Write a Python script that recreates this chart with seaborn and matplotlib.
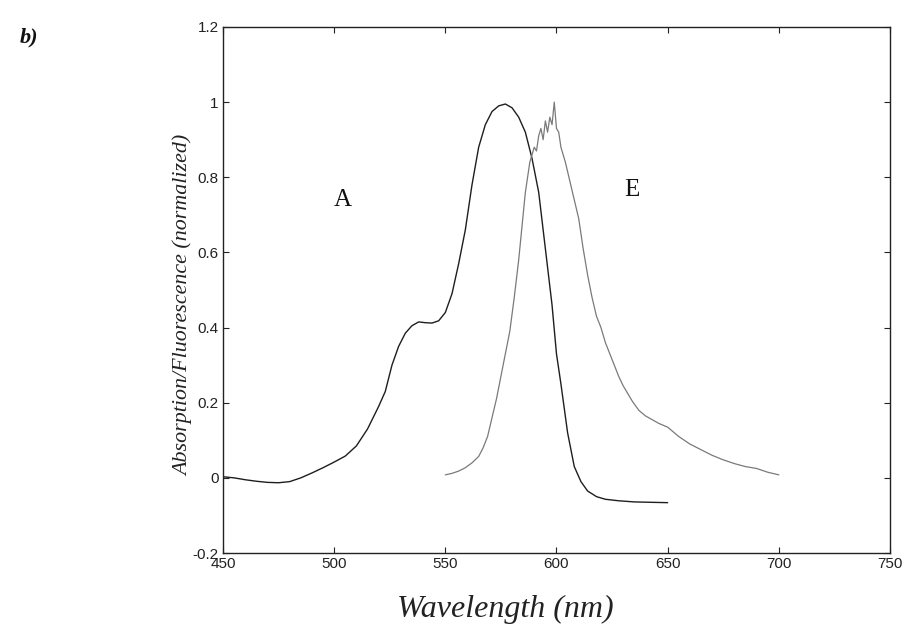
import numpy as np
import pandas as pd
import matplotlib
matplotlib.use('Agg')
import matplotlib.pyplot as plt
import seaborn as sns

# =========================
# DATA
# =========================
abs_wavelength = [450, 455, 460, 465, 470, 475, 480, 485, 490, 495, 500, 505,
                  510, 515, 520, 523, 526, 529, 532, 535, 538, 541, 544, 547,
                  550, 553, 556, 559, 562, 565, 568, 571, 574, 577, 580, 583,
                  586, 589, 592, 594, 596, 598, 600, 602, 605, 608, 611, 614,
                  618, 622, 628, 635, 642, 650]
abs_value = [0.003, 0.0, -0.005, -0.009, -0.012, -0.013, -0.01, 0.0, 0.013,
             0.027, 0.042, 0.058, 0.085, 0.13, 0.19, 0.23, 0.30, 0.35, 0.385,
             0.405, 0.415, 0.413, 0.412, 0.418, 0.44, 0.49, 0.57, 0.66, 0.78,
             0.88, 0.94, 0.975, 0.99, 0.995, 0.985, 0.96, 0.92, 0.85, 0.76,
             0.66, 0.56, 0.46, 0.33, 0.25, 0.12, 0.03, -0.01, -0.035, -0.05,
             -0.057, -0.061, -0.064, -0.065, -0.066]

em_wavelength = [550, 553, 556, 559, 562, 565, 567, 569, 571, 573, 575, 577,
                 579, 581, 583, 585, 586, 587, 588, 589, 590, 591, 592, 593,
                 594, 595, 596, 597, 598, 599, 600, 601, 602, 603, 604, 606,
                 608, 610, 612, 614, 616, 618, 620, 622, 624, 626, 628, 630,
                 632, 634, 637, 640, 643, 646, 650, 655, 660, 665, 670, 675,
                 680, 685, 690, 695, 700]
em_value = [0.008, 0.012, 0.018, 0.027, 0.04, 0.057, 0.08, 0.11, 0.16, 0.21,
            0.27, 0.33, 0.39, 0.48, 0.58, 0.70, 0.76, 0.80, 0.84, 0.86, 0.88,
            0.87, 0.91, 0.93, 0.90, 0.95, 0.92, 0.96, 0.94, 1.0, 0.93, 0.92,
            0.88, 0.86, 0.84, 0.79, 0.74, 0.69, 0.61, 0.54, 0.48, 0.43, 0.40,
            0.36, 0.33, 0.30, 0.27, 0.245, 0.225, 0.205, 0.18, 0.165, 0.155,
            0.145, 0.135, 0.11, 0.09, 0.075, 0.06, 0.048, 0.038, 0.03, 0.025,
            0.015, 0.008]

x_ticks = [450, 500, 550, 600, 650, 700, 750]
y_ticks = [-0.2, 0, 0.2, 0.4, 0.6, 0.8, 1, 1.2]
y_tick_labels = ['-0.2', '0', '0.2', '0.4', '0.6', '0.8', '1', '1.2']

df_abs = pd.DataFrame({'wl': abs_wavelength, 'val': abs_value})
df_em = pd.DataFrame({'wl': em_wavelength, 'val': em_value})

# =========================
# PLOTTING SETUP
# =========================
sns.set_theme('paper', font_scale=1)
sns.set_style('ticks')
plt.rcParams['font.family'] = ['Liberation Sans', 'DejaVu Sans']
plt.rcParams['xtick.direction'] = 'in'
plt.rcParams['ytick.direction'] = 'in'

fig = plt.figure(figsize=(9.05, 6.26), dpi=100)
ax = fig.add_axes([0.2464, 0.1166, 0.737, 0.8403])

sns.lineplot(data=df_abs, x='wl', y='val', ax=ax, color='#1e1e1e',
             linewidth=1.0, sort=False)
sns.lineplot(data=df_em, x='wl', y='val', ax=ax, color='#7a7a7a',
             linewidth=0.9, sort=False)

ax.set_xlim(450, 750)
ax.set_ylim(-0.2, 1.2)
ax.set_xticks(x_ticks)
ax.set_xticklabels([str(t) for t in x_ticks])
ax.set_yticks(y_ticks)
ax.set_yticklabels(y_tick_labels)
ax.tick_params(axis='both', which='both', top=True, right=True,
               labelsize=11, length=4, width=0.8, colors='#222222',
               labelcolor='#222222', pad=3)
for s in ax.spines.values():
    s.set_linewidth(1.0)
    s.set_color('#222222')

ax.set_xlabel('Wavelength (nm)', fontfamily='Liberation Serif',
              style='italic', fontsize=23, color='#222222', va='baseline')
ax.xaxis.set_label_coords(0.424, -0.1217)
ax.set_ylabel('Absorption/Fluorescence (normalized)',
              fontfamily='Liberation Serif', style='italic', fontsize=15.8,
              color='#222222')
ax.yaxis.set_label_coords(-0.045, 0.47)

# curve labels
ax.text(0.18, 0.671, 'A', transform=ax.transAxes,
        fontfamily='Liberation Serif', fontsize=18, ha='center', va='center',
        color='#111111')
ax.text(0.613, 0.69, 'E', transform=ax.transAxes,
        fontfamily='Liberation Serif', fontsize=18, ha='center', va='center',
        color='#111111')

# panel label
fig.text(0.022, 0.94, 'b)', fontfamily='Liberation Serif', style='italic',
         fontweight='bold', fontsize=16, ha='left', va='center',
         color='#111111')

fig.savefig('out.png', dpi=100, facecolor='white')
